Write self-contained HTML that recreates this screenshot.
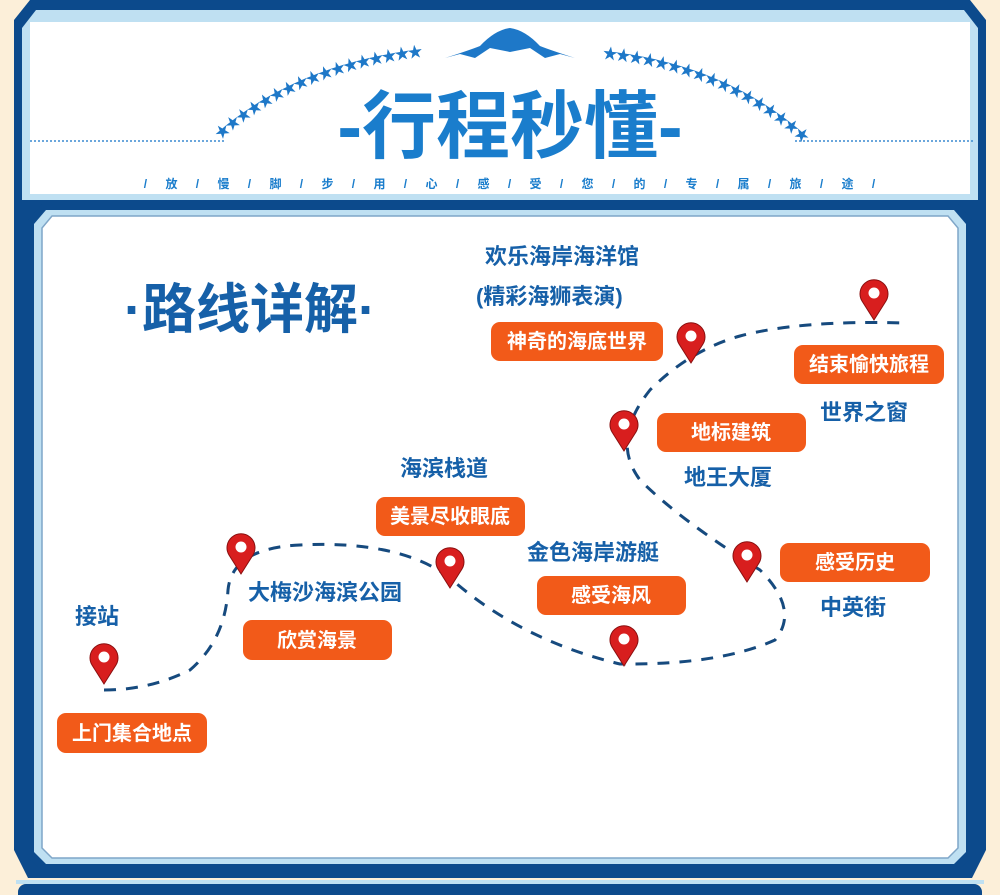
<!DOCTYPE html>
<html><head><meta charset="utf-8"><style>
html,body{margin:0;padding:0;background:#fcefd9;}
svg{display:block}
text{font-family:"Liberation Sans","Noto Sans CJK SC",sans-serif;font-weight:bold}
</style></head><body>
<svg width="1000" height="895" viewBox="0 0 1000 895" xmlns="http://www.w3.org/2000/svg">
<rect width="1000" height="895" fill="#fcefd9"/>
<!-- outer frame -->
<path d="M30 0 H970 L986 20 V850 L972 878 H28 L14 850 V20 Z" fill="#0c4a8c"/>
<rect x="18" y="884" width="964" height="20" rx="8" fill="#0c4a8c"/>
<rect x="16" y="880" width="968" height="4" fill="#bfe0f2"/>
<!-- top panel -->
<path d="M36 10 H964 L978 28 V200 H22 V28 Z" fill="#bfe0f2"/>
<rect x="30" y="22" width="940" height="172" fill="#ffffff"/>
<!-- lower panel -->
<path d="M42 204 H958 L972 220 V858 L958 870 H42 L28 858 V220 Z" fill="#0c4a8c"/>
<path d="M46 210 H954 L966 224 V852 L954 864 H46 L34 852 V224 Z" fill="#bfe0f2"/>
<path d="M52 216 H948 L958 228 V848 L948 858 H52 L42 848 V228 Z" fill="#ffffff" stroke="#7fa6c8" stroke-width="1.5"/>
<!-- header decorations -->
<line x1="30" y1="141" x2="225" y2="141" stroke="#3a8ad0" stroke-width="1.5" stroke-dasharray="2 2"/>
<line x1="795" y1="141" x2="975" y2="141" stroke="#3a8ad0" stroke-width="1.5" stroke-dasharray="2 2"/>
<path id="lArc" d="M220 140 Q300 70 425 56" fill="none"/>
<path id="rArc" d="M602 58 Q720 70 800 140" fill="none"/>
<text font-size="15" fill="#1e78c8" letter-spacing="-2"><textPath href="#lArc">★★★★★★★★★★★★★★★★★★★★</textPath></text>
<text font-size="15" fill="#1e78c8" letter-spacing="-2"><textPath href="#rArc">★★★★★★★★★★★★★★★★★★★★</textPath></text>
<path d="M445 58 Q470 50 480 46 Q495 30 510 28 Q525 30 540 46 Q550 50 575 58 L560 54 L545 58 L530 48 L510 52 L490 48 L475 58 L460 54 Z" fill="#1e78c8"/>
<text x="510" y="152" font-size="74" fill="#1a7dcc" text-anchor="middle">-行程秒懂-</text>
<text x="510" y="188" font-size="12" fill="#1a7dcc" text-anchor="middle" letter-spacing="1" xml:space="preserve">/    放    /    慢    /    脚    /    步    /    用    /    心    /    感    /    受    /    您    /    的    /    专    /    属    /    旅    /    途    /</text>
<!-- section title -->
<text x="250" y="328" font-size="54" fill="#1660a8" text-anchor="middle">·路线详解·</text>
<!-- dashed route -->
<path d="M104 690 Q150 690 190 670 Q225 640 228 590 Q232 548 300 545 Q400 540 450 578 Q520 640 620 664 Q720 665 775 640 Q800 610 760 570 Q680 520 640 480 Q610 440 650 390 Q690 350 740 336 Q800 320 905 323" fill="none" stroke="#164a7e" stroke-width="3" stroke-dasharray="12 10"/>
<!-- pins -->
<g id="pins" fill="#d81e1e" stroke="#8a0f0f" stroke-width="1">
<path d="M104 684 L92 665 A14 14 0 1 1 116 665 Z"/><circle cx="104" cy="657" r="5.5" fill="#fff" stroke="none"/>
<path d="M241 574 L229 555 A14 14 0 1 1 253 555 Z"/><circle cx="241" cy="547" r="5.5" fill="#fff" stroke="none"/>
<path d="M450 588 L438 569 A14 14 0 1 1 462 569 Z"/><circle cx="450" cy="561" r="5.5" fill="#fff" stroke="none"/>
<path d="M624 666 L612 647 A14 14 0 1 1 636 647 Z"/><circle cx="624" cy="639" r="5.5" fill="#fff" stroke="none"/>
<path d="M747 582 L735 563 A14 14 0 1 1 759 563 Z"/><circle cx="747" cy="555" r="5.5" fill="#fff" stroke="none"/>
<path d="M624 451 L612 432 A14 14 0 1 1 636 432 Z"/><circle cx="624" cy="424" r="5.5" fill="#fff" stroke="none"/>
<path d="M691 363 L679 344 A14 14 0 1 1 703 344 Z"/><circle cx="691" cy="336" r="5.5" fill="#fff" stroke="none"/>
<path d="M874 320 L862 301 A14 14 0 1 1 886 301 Z"/><circle cx="874" cy="293" r="5.5" fill="#fff" stroke="none"/>
</g>
<!-- orange labels -->
<g fill="#f25a19">
<rect x="57" y="713" width="150" height="40" rx="9"/>
<rect x="243" y="620" width="149" height="40" rx="9"/>
<rect x="376" y="497" width="149" height="39" rx="9"/>
<rect x="537" y="576" width="149" height="39" rx="9"/>
<rect x="780" y="543" width="150" height="39" rx="9"/>
<rect x="657" y="413" width="149" height="39" rx="9"/>
<rect x="491" y="322" width="172" height="39" rx="9"/>
<rect x="794" y="345" width="150" height="39" rx="9"/>
</g>
<g fill="#ffffff" font-size="20" text-anchor="middle">
<text x="132" y="740">上门集合地点</text>
<text x="317" y="647">欣赏海景</text>
<text x="450" y="523">美景尽收眼底</text>
<text x="611" y="602">感受海风</text>
<text x="855" y="569">感受历史</text>
<text x="731" y="439">地标建筑</text>
<text x="577" y="348">神奇的海底世界</text>
<text x="869" y="371">结束愉快旅程</text>
</g>
<!-- blue labels -->
<g fill="#1660a8" font-size="22">
<text x="75" y="624">接站</text>
<text x="248" y="600">大梅沙海滨公园</text>
<text x="400" y="476">海滨栈道</text>
<text x="527" y="560">金色海岸游艇</text>
<text x="820" y="615">中英街</text>
<text x="684" y="485">地王大厦</text>
<text x="820" y="420">世界之窗</text>
<text x="485" y="264">欢乐海岸海洋馆</text>
<text x="476" y="304">(精彩海狮表演)</text>
</g>
</svg>
</body></html>
